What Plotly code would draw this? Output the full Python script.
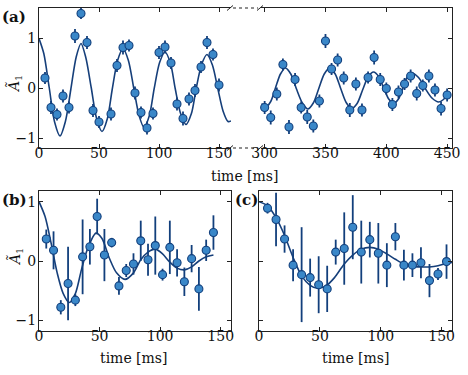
import plotly.graph_objects as go

# ---------------- data ----------------
# panel (a), early times
a1_t = [5, 10, 15, 20, 25, 30, 35, 40, 45, 50, 60, 65, 70, 75, 80, 85, 90, 95,
        100, 105, 110, 115, 120, 125, 130, 135, 140, 145, 150]
a1_y = [0.21, -0.38, -0.52, -0.15, -0.38, 1.05, 1.5, 0.92, -0.44, -0.67, -0.51,
        0.46, 0.82, 0.86, -0.09, -0.48, -0.79, -0.5, 0.72, 0.83, 0.51, -0.31,
        -0.6, -0.21, -0.04, 0.43, 0.92, 0.68, 0.07]
a1_err = [0.12, 0.13, 0.12, 0.13, 0.12, 0.14, 0.11, 0.13, 0.13, 0.12, 0.13, 0.13,
          0.14, 0.12, 0.13, 0.12, 0.13, 0.12, 0.13, 0.13, 0.12, 0.13, 0.14, 0.13,
          0.13, 0.12, 0.13, 0.12, 0.13]
a1_fit_t = [0, 4, 8.5, 13, 17.5, 22, 26.5, 31, 35, 39, 43.5, 48, 52.5, 57, 61, 65.5,
            70, 74.5, 79, 83.5, 87.5, 92, 96, 100.5, 105, 109.5, 113.5, 118, 122.5,
            127, 131, 135.5, 140, 144.5, 149, 153.5, 157.5, 160]
a1_fit_y = [1.0, 0.7, 0.02, -0.67, -0.95, -0.66, -0.02, 0.63, 0.9, 0.62, 0.02, -0.6,
            -0.86, -0.6, -0.02, 0.56, 0.8, 0.56, 0.0, -0.55, -0.78, -0.54, 0.0, 0.52,
            0.73, 0.51, 0.0, -0.5, -0.72, -0.5, 0.0, 0.48, 0.68, 0.47, 0.0, -0.46,
            -0.66, -0.65]

# panel (a), late times
a2_t = [300, 305, 310, 315, 320, 325, 330, 335, 340, 345, 350, 355, 360, 365,
        370, 375, 380, 385, 390, 395, 400, 405, 410, 415, 420, 425, 430, 435,
        440, 445, 450]
a2_y = [-0.38, -0.58, -0.11, 0.48, -0.77, 0.18, -0.38, -0.57, -0.75, -0.25, 0.95,
        0.39, 0.57, 0.21, -0.43, 0.09, -0.43, 0.22, 0.62, 0.18, 0.0, -0.32,
        -0.07, 0.09, 0.25, -0.1, 0.06, 0.25, -0.03, -0.4, -0.13]
a2_err = [0.13, 0.14, 0.13, 0.12, 0.14, 0.13, 0.12, 0.14, 0.13, 0.13, 0.14, 0.12,
          0.13, 0.13, 0.14, 0.13, 0.13, 0.12, 0.14, 0.13, 0.12, 0.13, 0.13, 0.12,
          0.13, 0.14, 0.12, 0.13, 0.13, 0.14, 0.13]
a2_fit_t = [297.5, 301, 305, 309, 313, 317, 321.5, 326, 331, 335.5, 340, 344.5,
            349, 353.5, 358, 362.5, 367, 371.5, 376, 380.5, 385, 389.5, 394, 398,
            402, 406, 410, 413.5, 417, 421, 426.5, 432, 437.5, 443, 447, 450]
a2_fit_y = [-0.3, -0.37, -0.26, 0.02, 0.29, 0.41, 0.29, 0.0, -0.29, -0.41, -0.29,
            0.0, 0.29, 0.41, 0.29, 0.0, -0.28, -0.4, -0.3, -0.03, 0.23, 0.33, 0.23,
            0.0, -0.21, -0.3, -0.21, 0.0, 0.22, 0.31, 0.22, 0.0, -0.19, -0.27, -0.22,
            -0.13]

# panel (b)
b_t = [6, 12, 18, 24, 30, 36, 42, 48, 54, 60, 66, 72, 78, 84, 90, 96, 102, 108,
       114, 120, 126, 132, 138, 144]
b_y = [0.37, 0.18, -0.78, -0.38, -0.66, 0.07, 0.24, 0.75, 0.1, 0.31, -0.42, -0.16,
       -0.05, 0.34, 0.02, 0.26, -0.23, 0.23, -0.03, -0.35, 0.04, -0.47, 0.18, 0.48]
b_err = [0.16, 0.32, 0.12, 0.62, 0.1, 0.63, 0.3, 0.3, 0.44, 0.08, 0.15, 0.11,
         0.18, 0.34, 0.27, 0.49, 0.1, 0.45, 0.23, 0.24, 0.23, 0.37, 0.18, 0.29]
b_fit_t = [0, 5, 10, 15, 20, 25, 30, 35, 40, 47, 52, 58, 64, 71, 78, 84, 90, 96,
           102, 108, 114, 120, 126, 132, 138, 144]
b_fit_y = [1.0, 0.75, 0.3, -0.2, -0.55, -0.7, -0.55, -0.15, 0.2, 0.47, 0.38, 0.05,
           -0.2, -0.31, -0.2, 0.02, 0.15, 0.2, 0.12, -0.02, -0.12, -0.15, -0.1,
           0.0, 0.07, 0.1]

# panel (c)
c_t = [7, 14, 21, 28, 35, 42, 49, 56, 63, 70, 77, 84, 91, 98, 105, 112, 119, 126,
       133, 140, 147, 154]
c_y = [0.89, 0.7, 0.37, -0.07, -0.23, -0.28, -0.4, -0.47, 0.15, 0.21, 0.57, 0.15,
       0.36, 0.13, -0.07, 0.41, -0.07, -0.07, -0.03, -0.33, -0.22, -0.01]
c_err = [0.09, 0.45, 0.23, 0.27, 0.8, 0.32, 0.48, 0.39, 0.21, 0.61, 0.54, 0.53,
         0.3, 0.51, 0.37, 0.23, 0.26, 0.2, 0.26, 0.28, 0.1, 0.29]
c_fit_t = [0, 7, 14, 21, 28, 35, 42, 48, 55, 62, 70, 77, 84, 91, 98, 105, 112, 119,
           126, 133, 140, 147, 154, 160]
c_fit_y = [1.0, 0.93, 0.73, 0.43, 0.06, -0.25, -0.41, -0.46, -0.42, -0.28, -0.05,
           0.1, 0.2, 0.23, 0.2, 0.12, 0.03, -0.05, -0.09, -0.1, -0.1, -0.08, -0.04,
           -0.02]

a_xticks = [0, 50, 100, 150]
a2_xticks = [300, 350, 400, 450]
yticks = [-1, 0, 1]

# ---------------- style ----------------
FILL = "#3a87c8"
EDGE = "#123f7c"
LINE = "#163f7a"
AX = "#222222"
FONT = "DejaVu Serif"
W, H = 468, 375


def px(x):
    return x / W


def py(y):
    return (H - y) / H


fig = go.Figure()


def add_panel(t, y, err, ft, fy, xa, ya):
    fig.add_trace(go.Scatter(x=ft, y=fy, mode="lines", xaxis=xa, yaxis=ya,
                             line=dict(color=LINE, width=1.6, shape="spline", smoothing=0.8),
                             hoverinfo="skip", cliponaxis=True))
    fig.add_trace(go.Scatter(x=t, y=y, mode="markers", xaxis=xa, yaxis=ya,
                             error_y=dict(type="data", array=err, visible=True,
                                          color=EDGE, thickness=1.8, width=0),
                             marker=dict(size=8, color=FILL, line=dict(color=EDGE, width=1.1)),
                             cliponaxis=False))


add_panel(a1_t, a1_y, a1_err, a1_fit_t, a1_fit_y, "x", "y")
add_panel(a2_t, a2_y, a2_err, a2_fit_t, a2_fit_y, "x2", "y2")
add_panel(b_t, b_y, b_err, b_fit_t, b_fit_y, "x3", "y3")
add_panel(c_t, c_y, c_err, c_fit_t, c_fit_y, "x4", "y4")

common = dict(showline=True, linecolor=AX, linewidth=1, ticks="inside", ticklen=4,
              tickwidth=1, tickcolor=AX, showgrid=False, zeroline=False, automargin=False,
              tickfont=dict(family=FONT, size=14, color="#111"))
xcommon = dict(common, ticklabelstandoff=-8)
ycommon = dict(common, ticklabelstandoff=-1)

a_dom_y = [py(148), py(8)]
bc_dom_y = [py(331), py(191)]

fig.update_layout(
    width=W, height=H, margin=dict(l=0, r=0, t=0, b=0, autoexpand=False),
    paper_bgcolor="white", plot_bgcolor="white", showlegend=False,
    font=dict(family=FONT, size=14, color="#111"),
    xaxis=dict(xcommon, domain=[px(39), px(231)], range=[0, 160], tickvals=a_xticks,
               mirror="ticks", anchor="y"),
    yaxis=dict(ycommon, domain=a_dom_y, range=[-1.19, 1.61], tickvals=yticks,
               mirror=False, anchor="x"),
    xaxis2=dict(xcommon, domain=[px(261), px(452)], range=[297, 454], tickvals=a2_xticks,
                mirror="ticks", anchor="y2"),
    yaxis2=dict(ycommon, domain=a_dom_y, range=[-1.19, 1.61], tickvals=yticks,
                side="right", showticklabels=False, mirror=False, anchor="x2"),
    xaxis3=dict(xcommon, domain=[px(39), px(231)], range=[0, 158.5], tickvals=a_xticks,
                mirror="ticks", anchor="y3"),
    yaxis3=dict(ycommon, domain=bc_dom_y, range=[-1.18, 1.18], tickvals=yticks,
                mirror="ticks", anchor="x3"),
    xaxis4=dict(xcommon, domain=[px(259), px(452)], range=[0, 158.5], tickvals=a_xticks,
                mirror="ticks", anchor="y4"),
    yaxis4=dict(ycommon, domain=bc_dom_y, range=[-1.18, 1.18], tickvals=yticks,
                showticklabels=False, mirror="ticks", anchor="x4"),
)

# broken-axis marks
shapes = []
for yy in (8, 148):
    shapes.append(dict(type="line", xref="paper", yref="paper", x0=px(233), x1=px(258),
                       y0=py(yy), y1=py(yy), line=dict(color=AX, width=1.2, dash="dot")))
    for xx in (230, 260):
        shapes.append(dict(type="line", xref="paper", yref="paper", x0=px(xx - 3), x1=px(xx + 3),
                           y0=py(yy + 2.5), y1=py(yy - 2.5), line=dict(color=AX, width=1)))
fig.update_layout(shapes=shapes)

ann = []


def text(x, y, s, size=14, angle=0):
    ann.append(dict(x=px(x), y=py(y), xref="paper", yref="paper", text=s, showarrow=False,
                    textangle=angle, xanchor="center", yanchor="middle",
                    font=dict(family=FONT, size=size, color="#111")))


text(14, 17, "<b>(a)</b>", size=15)
text(14, 200, "<b>(b)</b>", size=15)
text(246, 200, "<b>(c)</b>", size=15)
text(15, 84, "<i>Ã</i><sub>1</sub>", angle=-90)
text(15, 257, "<i>Ã</i><sub>1</sub>", angle=-90)
text(245, 176, "time [ms]")
text(134, 358, "time [ms]")
text(356, 358, "time [ms]")
fig.update_layout(annotations=ann)

# remove the default 8px page margin so the figure fills the window exactly
fig.write_html("out.html", config={"displayModeBar": False},
               post_script="document.body.style.margin='0px';")
